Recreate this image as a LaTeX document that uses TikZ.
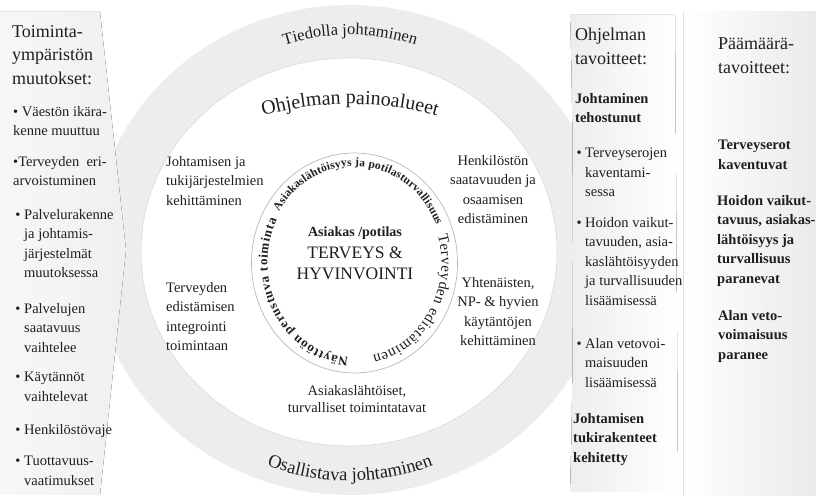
\documentclass[tikz,border=0pt]{standalone}
\usepackage{fontspec}
\setmainfont{Liberation Serif}
\usetikzlibrary{decorations.text}

\colorlet{ink}{black!88}
\colorlet{ringgray}{gray!14}
\colorlet{coreedge}{gray!22}
\pgfdeclareradialshading{coreglow}{\pgfpoint{0bp}{0bp}}{color(0bp)=(white); color(28bp)=(white); color(50bp)=(coreedge)}
\newcommand{\bul}{\llap{\textbullet\ }}

\begin{document}
\begin{tikzpicture}[
            x = 1pt, y = 1pt, % one unit per pixel of the sketch
            every node/.style = {inner sep = 0pt, text = ink},
            body/.style = {font = \fontsize{14.5}{19.5}\selectfont, align = left, anchor = north west},
            bodyc/.style = {body, align = center, anchor = north},
            strong/.style = {body, font = \bfseries\fontsize{14.5}{19.5}\selectfont},
            head/.style = {body, font = \fontsize{18}{23.5}\selectfont},
            ringtext/.style = {decorate, decoration = {text along path, text align = center, text color = ink}},
            coretext/.style = {decorate, decoration = {text along path, text align = fit to path, text color = ink}}
        ]

        \useasboundingbox (-350,-251) rectangle (466,251);

        % rings
        \fill[ringgray] (0,1) ellipse [x radius = 258, y radius = 245];
        \filldraw[fill = white, draw = gray!30, line width = 0.6pt] (-1,-1) ellipse [x radius = 208, y radius = 194];
        \shade[shading = coreglow] (4.5,-12) ellipse [x radius = 103, y radius = 110];
        \draw[gray!55, line width = 0.7pt] (4.5,-12) ellipse [x radius = 103, y radius = 110];

        % side panels
        \fill[left color = gray!6, right color = gray!12] (-350,239) -- (-250,239) -- (-224,1) -- (-250,-244) -- (-350,-244) -- cycle;
        \fill[left color = gray!14, right color = white] (220,236) .. controls (224,120) and (224,-120) .. (220,-241) -- (328,-241) -- (325,236) -- cycle;
        \fill[left color = white, right color = gray!16] (333,239) -- (466,239) -- (466,-245) -- (333,-245) -- cycle;
        \draw[gray!25] (333,239) -- (333,-245);

        % left column
        \node (envhead) [head] at (-338,226) {Toiminta-\\ympäristön\\muutokset:};
        \node (envA) [body] at (-337,145) {\textbullet\ Väestön ikära-\\kenne muuttuu};
        \node (envB) [body] at (-337,95) {\textbullet Terveyden~ eri-\\arvoistuminen};
        \node (envC) [body] at (-326,42) {\bul Palvelurakenne\\ja johtamis-\\järjestelmät\\muutoksessa};
        \node (envD) [body] at (-326,-52) {\bul Palvelujen\\saatavuus\\vaihtelee};
        \node (envE) [body] at (-326,-121) {\bul Käytännöt\\vaihtelevat};
        \node (envF) [body] at (-326,-173) {\bul Henkilöstövaje};
        \node (envG) [body] at (-326,-205) {\bul Tuottavuus-\\vaatimukset};

        % ring labels
        \path[ringtext, decoration = {text = {|\fontsize{16.5}{18}\selectfont|Tiedolla johtaminen}}]
            (160:216) arc [start angle = 160, end angle = 20, radius = 216];
        \path[ringtext, decoration = {text = {|\fontsize{20}{22}\selectfont|Ohjelman painoalueet}}]
            (0,-183) ++(112:330) arc [start angle = 112, end angle = 68, radius = 330];
        \path[ringtext, decoration = {text = {|\fontsize{18.5}{20}\selectfont|Osallistava johtaminen}}]
            (235:230) arc [start angle = 235, end angle = 305, radius = 230];

        % focus areas
        \node (leadA) [body] at (-184,95) {Johtamisen ja\\tukijärjestelmien\\kehittäminen};
        \node (leadB) [body] at (-184,-31) {Terveyden\\edistämisen\\integrointi\\toimintaan};
        \node (staff) [bodyc] at (143,96) {Henkilöstön\\saatavuuden ja\\osaamisen\\edistäminen};
        \node (practice) [bodyc] at (148,-26) {Yhtenäisten,\\NP- \& hyvien\\käytäntöjen\\kehittäminen};
        \node (safe) [bodyc, font = \fontsize{14.5}{17.5}\selectfont] at (7,-134) {Asiakaslähtöiset,\\turvalliset toimintatavat};

        % core
        \node (client) [font = \bfseries\fontsize{14}{16}\selectfont, anchor = north] at (5,24) {Asiakas /potilas};
        \node (health) [font = \fontsize{17.5}{21}\selectfont, align = center, anchor = north] at (5,4) {TERVEYS \&\\HYVINVOINTI};
        \begin{scope}[shift = {(4.5,-12)}]
            \path[coretext, decoration = {text = {|\bfseries\fontsize{11.5}{13}\selectfont|Asiakaslähtöisyys ja potilasturvallisuus}}]
                (148:89 and 97) arc [start angle = 148, end angle = 23, x radius = 89, y radius = 97];
            \path[coretext, decoration = {text = {|\fontsize{15}{16}\selectfont|Terveyden edistäminen}}]
                (17:87 and 95) arc [start angle = 17, end angle = -78, x radius = 87, y radius = 95];
            \path[coretext, decoration = {text = {|\bfseries\fontsize{13}{14}\selectfont|Näyttöön perustuva toiminta}}]
                (-94:87 and 95) arc [start angle = -94, end angle = -207, x radius = 87, y radius = 95];
        \end{scope}

        % program goals
        \node (goalhead) [head] at (225,223) {Ohjelman\\tavoitteet:};
        \node (goalA) [strong] at (225,158) {Johtaminen\\tehostunut};
        \node (goalB) [body] at (235,103) {\bul Terveyserojen\\kaventami-\\sessa};
        \node (goalC) [body] at (235,34) {\bul Hoidon vaikut-\\tavuuden, asia-\\kaslähtöisyyden\\ja turvallisuuden\\lisäämisessä};
        \node (goalD) [body] at (235,-87) {\bul Alan vetovoi-\\maisuuden\\lisäämisessä};
        \node (goalE) [strong] at (223,-162) {Johtamisen\\tukirakenteet\\kehitetty};

        % main aims
        \node (aimhead) [head] at (368,213) {Päämäärä-\\tavoitteet:};
        \node (aimA) [strong] at (368,111) {Terveyserot\\kaventuvat};
        \node (aimB) [strong] at (367,56) {Hoidon vaikut-\\tavuus, asiakas-\\lähtöisyys ja\\turvallisuus\\paranevat};
        \node (aimC) [strong] at (368,-59) {Alan veto-\\voimaisuus\\paranee};

    \end{tikzpicture}
\end{document}
